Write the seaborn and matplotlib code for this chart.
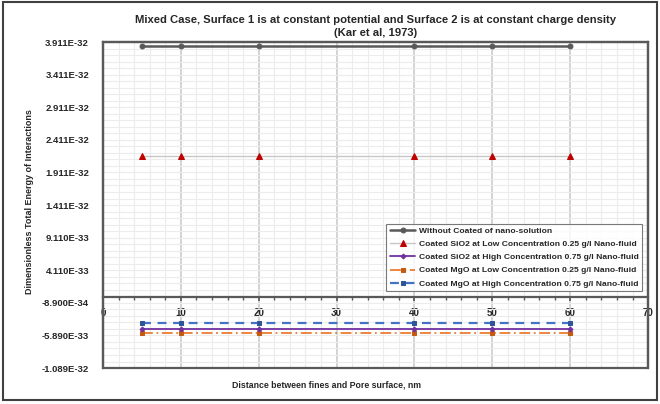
import numpy as np
import pandas as pd
import seaborn as sns
import matplotlib.pyplot as plt
from matplotlib.ticker import FixedLocator, FuncFormatter, MultipleLocator
from matplotlib.patches import Rectangle

# distances (nm)
distance = [5, 10, 20, 40, 50, 60]

# dimensionless total energy of interactions
without_coated = [3.85e-32] * 6
sio2_low = [2.17e-32] * 6
sio2_high = [-4.94e-33] * 6
mgo_low = [-5.56e-33] * 6
mgo_high = [-4.0e-33] * 6

labels = ["Without Coated of nano-solution",
          "Coated SiO2 at Low Concentration 0.25 g/l Nano-fluid",
          "Coated SiO2 at High Concentration 0.75 g/l Nano-fluid",
          "Coated MgO at Low Concentration 0.25 g/l Nano-fluid",
          "Coated MgO at High Concentration 0.75 g/l Nano-fluid"]

y_top = 3.911e-32
y_ticks = [y_top - k * 5e-33 for k in range(11)]
y_minor = [y_top - k * 1e-33 for k in range(51)]

sns.set_theme(style="white")
plt.rcParams['font.family'] = ['Liberation Sans', 'DejaVu Sans']
plt.rcParams['font.weight'] = 'bold'

fig = plt.figure(figsize=(6.6, 4.04), dpi=100)
ax = fig.add_axes([0.156, 0.089, 0.826, 0.807])

styles = [
    dict(color="#595959", lw=1.8, ls="-", marker="o", ms=3.5, mfc="#595959", mec="#595959", z=3),
    dict(color="#c8c8c8", lw=1.0, ls="-", marker="^", ms=4, mfc="#c00000", mec="#c00000", z=3),
    dict(color="#7030a0", lw=1.3, ls="-", marker="D", ms=2.5, mfc="#7030a0", mec="#7030a0", z=6),
    dict(color="#ed7d31", lw=1.3, ls=(0, (6, 2, 1, 2)), marker="s", ms=3.5, mfc="#c55a11", mec="#c55a11", z=4),
    dict(color="#4472c4", lw=1.6, ls=(0, (4, 3)), marker="s", ms=3.2, mfc="#2f5597", mec="#2f5597", z=4),
]
series = [without_coated, sio2_low, sio2_high, mgo_low, mgo_high]

for vals, lab, st in zip(series, labels, styles):
    df = pd.DataFrame({"x": distance, "y": vals})
    sns.lineplot(data=df, x="x", y="y", ax=ax, label=lab, color=st["color"],
                 linewidth=st["lw"], linestyle=st["ls"], marker=st["marker"],
                 markersize=st["ms"], markerfacecolor=st["mfc"],
                 markeredgecolor=st["mec"], zorder=st["z"])

ax.set_xlim(0, 70)
ax.set_ylim(y_ticks[-1], y_ticks[0])

ax.xaxis.set_major_locator(MultipleLocator(10))
ax.xaxis.set_minor_locator(MultipleLocator(2))
ax.yaxis.set_major_locator(FixedLocator(y_ticks))
ax.yaxis.set_minor_locator(FixedLocator(y_minor))
ax.yaxis.set_major_formatter(FuncFormatter(lambda v, p: "{:.3E}".format(v)))

ax.grid(which="major", axis="x", color="#d0d0d0", lw=1.3)
ax.grid(which="minor", axis="x", color="#ececec", lw=0.8)
ax.grid(which="both", axis="y", color="#ececec", lw=0.8)
ax.set_axisbelow(True)

# x axis crosses at zero
ax.spines["bottom"].set_position(("data", 0))
for s in ["bottom", "left", "top", "right"]:
    ax.spines[s].set_color("#595959")
    ax.spines[s].set_linewidth(1.6)
ax.add_patch(Rectangle((0, 0), 1, 1, transform=ax.transAxes, fill=False,
                       edgecolor="#595959", lw=1.6, zorder=5, clip_on=False))

ax.tick_params(axis="x", which="both", direction="out", bottom=True, length=3,
               color="#595959", labelsize=7, pad=5, labelcolor="#262626")
ax.tick_params(axis="x", which="minor", length=2)
ax.tick_params(axis="y", which="major", left=False, labelsize=6.8, pad=4,
               labelcolor="#262626")

ax.set_xlabel("")
ax.set_ylabel("")
ax.set_title("Mixed Case, Surface 1 is at constant potential and Surface 2 is at constant charge density\n(Kar et al, 1973)",
             fontsize=8.1, fontweight="bold", color="#262626", pad=4, linespacing=1.4)
fig.text(0.494, 0.047, "Distance between fines and Pore surface, nm", ha="center",
         va="center", fontsize=6.3, fontweight="bold", color="#262626")
fig.text(0.045, 0.5, "Dimensionless Total Energy of Interactions", ha="center",
         va="center", rotation=90, fontsize=6.5, fontweight="bold", color="#262626")

leg = ax.legend(loc="upper left", bbox_to_anchor=(0.52, 0.443), fontsize=6.1,
                frameon=True, fancybox=False, edgecolor="#595959",
                borderpad=0.4, labelspacing=0.62, handlelength=3.0,
                handletextpad=0.4, borderaxespad=0)
leg.get_frame().set_linewidth(0.8)
for t in leg.get_texts():
    t.set_color("#262626")

fig.patches.append(Rectangle((0.004, 0.01), 0.992, 0.985, transform=fig.transFigure,
                             fill=False, edgecolor="#404040", lw=1.5))

fig.savefig("out.png", dpi=100)
